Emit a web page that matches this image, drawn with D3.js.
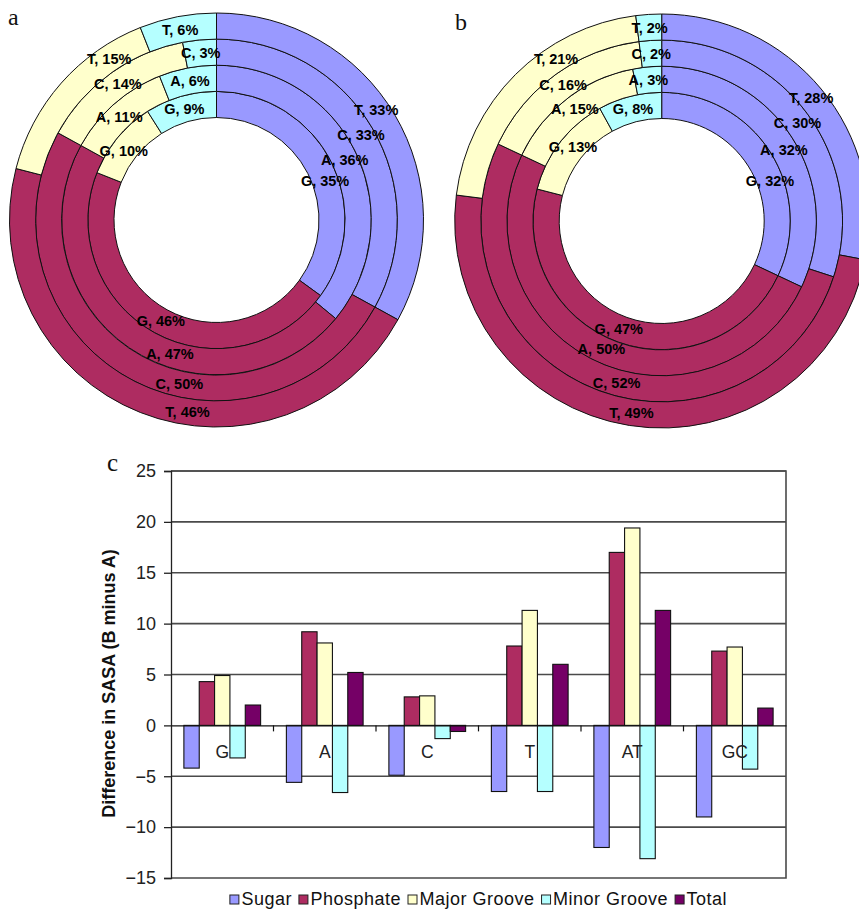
<!DOCTYPE html>
<html>
<head>
<meta charset="utf-8">
<script src="https://cdn.jsdelivr.net/npm/d3@7"></script>
<style>
  html, body { margin: 0; padding: 0; background: #fff; }
  svg { display: block; }
</style>
</head>
<body>
<svg id="fig" width="859" height="910"></svg>
<script>
// ---- Ring (doughnut) data: share of SASA per component, one ring per base ----
const ringBases = ["G", "A", "C", "T"];           // inner ring -> outer ring
const components = ["Sugar", "Phosphate", "Major Groove", "Minor Groove"];

// Panel a (A-form)
const sugarA     = [35, 36, 33, 33];
const phosphateA = [46, 47, 50, 46];
const majorA     = [10, 11, 14, 15];
const minorA     = [9, 6, 3, 6];

// Panel b (B-form)
const sugarB     = [32, 32, 30, 28];
const phosphateB = [47, 50, 52, 49];
const majorB     = [13, 15, 16, 21];
const minorB     = [8, 3, 2, 2];

// Hand-placed label angles (degrees added to each slice's mid angle), per component, per ring
const labelNudgeA = [[7, 0, 0, -4], [0, -15, -16, -13], [-3, -2, 0, 15], [0, 0, 0, 0]];
const labelNudgeB = [[12, 2, 0, 0], [2, 0, -6, 0], [2, 0, 0, 12], [0, 0, 0, 0]];

// ---- Bar chart data: difference in SASA (B minus A) ----
const categories  = ["G", "A", "C", "T", "AT", "GC"];
const seriesNames = ["Sugar", "Phosphate", "Major Groove", "Minor Groove", "Total"];
const sugar       = [-4.2, -5.6, -4.9, -6.5, -12.0, -9.0];
const phosphate   = [4.3, 9.2, 2.8, 7.8, 17.0, 7.3];
const majorGroove = [4.9, 8.1, 2.9, 11.3, 19.4, 7.7];
const minorGroove = [-3.2, -6.6, -1.3, -6.5, -13.1, -4.3];
const total       = [2.0, 5.2, -0.6, 6.0, 11.3, 1.7];
const yTicks      = [-15, -10, -5, 0, 5, 10, 15, 20, 25];

const palette = {
  "Sugar": "#9999FF",
  "Phosphate": "#AE2C61",
  "Major Groove": "#FFFFCC",
  "Minor Groove": "#B5FFFF",
  "Total": "#750066"
};

const svg = d3.select("#fig");
const sans = "'Liberation Sans', Arial, sans-serif";
const serif = "'Liberation Serif', 'Times New Roman', serif";

// ---------- Doughnut panels ----------
function drawRings(cx, cy, rows, nudges, panelLabel, lx, ly) {
  const g = svg.append("g").attr("transform", `translate(${cx},${cy})`);
  const slicesG = g.append("g");
  const labelsG = g.append("g");
  const outer = 207, inner = 102.5;
  const ringW = (outer - inner) / ringBases.length;
  const pie = d3.pie().sort(null).value(d => d.value);

  ringBases.forEach((base, ri) => {
    const values = components.map((c, ci) => ({ comp: c, ci, value: rows[ci][ri] }));
    const arcs = pie(values);
    const r0 = inner + ri * ringW, r1 = r0 + ringW;
    const arc = d3.arc().innerRadius(r0).outerRadius(r1);
    slicesG.selectAll(null).data(arcs).enter().append("path")
      .attr("d", arc)
      .attr("fill", d => palette[d.data.comp])
      .attr("stroke", "#111")
      .attr("stroke-width", 1);

    const rm = (r0 + r1) / 2;
    const ang = d => (d.startAngle + d.endAngle) / 2 + nudges[d.data.ci][ri] * Math.PI / 180;
    labelsG.selectAll(null).data(arcs).enter().append("text")
      .attr("x", d => rm * Math.sin(ang(d)))
      .attr("y", d => -rm * Math.cos(ang(d)))
      .attr("dy", "0.36em")
      .attr("text-anchor", "middle")
      .attr("font-family", sans)
      .attr("font-weight", "bold")
      .attr("font-size", 14.5)
      .attr("fill", "#000")
      .text(d => `${base}, ${d.data.value}%`);
  });

  svg.append("text")
    .attr("x", lx).attr("y", ly)
    .attr("font-family", serif)
    .attr("font-size", 24)
    .attr("fill", "#111")
    .text(panelLabel);
}

drawRings(216.5, 220, [sugarA, phosphateA, majorA, minorA], labelNudgeA, "a", 8, 25);
drawRings(661.7, 221, [sugarB, phosphateB, majorB, minorB], labelNudgeB, "b", 455, 30);

// ---------- Bar chart (panel c) ----------
const plot = { left: 171, right: 786, top: 471, bottom: 878 };
const y = d3.scaleLinear().domain([-15, 25]).range([plot.bottom, plot.top]);
const x0 = d3.scaleBand().domain(categories).range([plot.left, plot.right]).padding(0);
const x1 = d3.scaleBand().domain(seriesNames).range([0, x0.bandwidth()]).paddingInner(0).paddingOuter(0.84);

const seriesValues = [sugar, phosphate, majorGroove, minorGroove, total];
const chart = svg.append("g");

// gridlines
chart.append("g").selectAll("line").data(yTicks.filter(t => t !== 0 && t !== -15)).enter().append("line")
  .attr("x1", plot.left).attr("x2", plot.right)
  .attr("y1", d => y(d)).attr("y2", d => y(d))
  .attr("stroke", "#4a4a4a").attr("stroke-width", 1.6);

// frame (top, right, bottom)
chart.append("path")
  .attr("d", `M${plot.left},${plot.top}H${plot.right}V${plot.bottom}H${plot.left}`)
  .attr("fill", "none").attr("stroke", "#4a4a4a").attr("stroke-width", 1.6);

// bars
categories.forEach((cat, i) => {
  const grp = chart.append("g").attr("transform", `translate(${x0(cat)},0)`);
  seriesNames.forEach((s, si) => {
    const v = seriesValues[si][i];
    grp.append("rect")
      .attr("x", x1(s))
      .attr("width", x1.bandwidth())
      .attr("y", y(Math.max(0, v)))
      .attr("height", Math.abs(y(v) - y(0)))
      .attr("fill", palette[s])
      .attr("stroke", "#111")
      .attr("stroke-width", 1.1);
  });
});

// y axis
const yAxis = d3.axisLeft(y).tickValues(yTicks).tickSize(7).tickPadding(8).tickFormat(d3.format("d"));
const yg = chart.append("g").attr("transform", `translate(${plot.left},0)`).call(yAxis);
yg.select(".domain").attr("stroke", "#222").attr("stroke-width", 1.3);
yg.selectAll(".tick line").attr("stroke", "#222").attr("stroke-width", 1.3);
yg.selectAll(".tick text")
  .attr("font-family", sans).attr("font-size", 18).attr("fill", "#222");

// zero line with category ticks
const xAxis = d3.axisBottom(x0).tickSize(0).tickFormat("");
const xg = chart.append("g").attr("transform", `translate(0,${y(0)})`).call(xAxis);
xg.select(".domain").attr("stroke", "#111").attr("stroke-width", 1.2);
xg.selectAll(".tick").remove();
xg.selectAll(null).data(categories.slice(1)).enter().append("line")
  .attr("x1", d => x0(d)).attr("x2", d => x0(d))
  .attr("y1", 0).attr("y2", 6)
  .attr("stroke", "#111").attr("stroke-width", 1.2);

// category labels
chart.append("g").selectAll("text").data(categories).enter().append("text")
  .attr("x", d => x0(d) + x0.bandwidth() / 2)
  .attr("y", y(0) + 33)
  .attr("text-anchor", "middle")
  .attr("font-family", sans).attr("font-size", 17.5).attr("fill", "#222")
  .text(d => d);

// axis title
svg.append("text")
  .attr("transform", `translate(115,683.5) rotate(-90)`)
  .attr("text-anchor", "middle")
  .attr("font-family", sans).attr("font-weight", "bold").attr("font-size", 18).attr("fill", "#111")
  .text("Difference in SASA (B minus A)");

// panel label
svg.append("text")
  .attr("x", 107).attr("y", 471)
  .attr("font-family", serif).attr("font-size", 25).attr("fill", "#111")
  .text("c");

// legend, centred under the plot area
const legend = svg.append("g");
let lxPos = 0;
const legendGap = 7;
seriesNames.forEach(s => {
  const item = legend.append("g").attr("transform", `translate(${lxPos},0)`);
  item.append("rect").attr("x", 0).attr("y", -10).attr("width", 9).attr("height", 9)
    .attr("fill", palette[s]).attr("stroke", "#222").attr("stroke-width", 1);
  const t = item.append("text").attr("x", 11.5).attr("y", 0)
    .attr("font-family", sans).attr("font-size", 18).attr("letter-spacing", 0.5)
    .attr("fill", "#111").text(s);
  lxPos += 11.5 + t.node().getComputedTextLength() + legendGap;
});
const legendW = lxPos - legendGap;
legend.attr("transform", `translate(${(plot.left + plot.right) / 2 - legendW / 2},905)`);
</script>
</body>
</html>
